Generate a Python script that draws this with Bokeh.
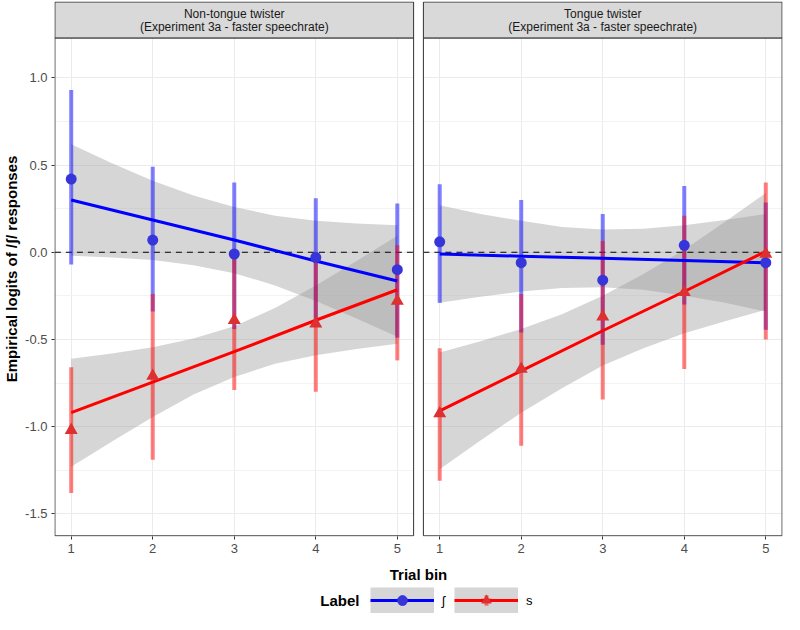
from bokeh.plotting import figure
from bokeh.models import (Range1d, FixedTicker, NumeralTickFormatter, CustomJSTickFormatter,
                          Legend, LegendItem, Label)
from bokeh.layouts import column
from bokeh.embed import file_html
from bokeh.resources import INLINE
from bokeh.core.properties import value

# ---------------- data ----------------
trial_bins = [1, 2, 3, 4, 5]
ribbon_x = [1, 1.5, 2, 2.5, 3, 3.5, 4, 4.5, 5]
panel_titles = ["Non-tongue twister", "Tongue twister"]
panel_subtitles = ["(Experiment 3a - faster speechrate)", "(Experiment 3a - faster speechrate)"]
series_labels = ["ʃ", "s"]
legend_title = "Label"
y_ticks = [-1.5, -1.0, -0.5, 0.0, 0.5, 1.0]
y_minor = [-1.25, -0.75, -0.25, 0.25, 0.75]

# Non-tongue twister panel
nt_esh_mean = [0.42, 0.07, -0.01, -0.03, -0.10]
nt_esh_lo = [-0.07, -0.34, -0.44, -0.38, -0.49]
nt_esh_hi = [0.93, 0.49, 0.40, 0.31, 0.28]
nt_s_mean = [-1.02, -0.71, -0.39, -0.41, -0.28]
nt_s_lo = [-1.38, -1.19, -0.79, -0.80, -0.62]
nt_s_hi = [-0.66, -0.24, -0.02, 0.00, 0.04]
nt_esh_fit = [0.30, 0.185, 0.07, -0.05, -0.165]
nt_s_fit = [-0.92, -0.745, -0.57, -0.39, -0.215]
nt_esh_band_lo = [-0.02, -0.03, -0.045, -0.075, -0.12, -0.19, -0.28, -0.38, -0.485]
nt_esh_band_hi = [0.62, 0.51, 0.41, 0.325, 0.26, 0.21, 0.18, 0.165, 0.155]
nt_s_band_lo = [-1.23, -1.085, -0.945, -0.815, -0.715, -0.64, -0.59, -0.555, -0.525]
nt_s_band_hi = [-0.61, -0.58, -0.545, -0.495, -0.425, -0.32, -0.19, -0.05, 0.095]

# Tongue twister panel
tt_esh_mean = [0.06, -0.06, -0.16, 0.04, -0.06]
tt_esh_lo = [-0.29, -0.46, -0.53, -0.30, -0.445]
tt_esh_hi = [0.39, 0.30, 0.22, 0.38, 0.285]
tt_s_mean = [-0.925, -0.67, -0.37, -0.23, -0.01]
tt_s_lo = [-1.31, -1.11, -0.845, -0.67, -0.50]
tt_s_hi = [-0.55, -0.24, 0.065, 0.21, 0.40]
tt_esh_fit = [-0.01, -0.0225, -0.035, -0.0475, -0.06]
tt_s_fit = [-0.91, -0.68, -0.45, -0.225, 0.005]
tt_esh_band_lo = [-0.29, -0.255, -0.225, -0.205, -0.20, -0.215, -0.25, -0.29, -0.34]
tt_esh_band_hi = [0.27, 0.22, 0.18, 0.145, 0.13, 0.135, 0.155, 0.185, 0.22]
tt_s_band_lo = [-1.245, -1.08, -0.92, -0.78, -0.65, -0.55, -0.465, -0.395, -0.33]
tt_s_band_hi = [-0.575, -0.51, -0.44, -0.355, -0.25, -0.125, 0.015, 0.175, 0.34]

# ---------------- layout constants ----------------
FONT = "Liberation Sans"
BLUE = "#0000ff"
RED = "#ff0000"
PT_BLUE = "#3535d9"
PT_RED = "#dd3030"
X_LO, X_HI = 0.8, 5.2          # one panel's x extent
GAP = 0.12                     # gap between panels (x units)
OFF = X_HI + GAP - X_LO        # shift of the second panel
Y_LO, Y_TOP = -1.626, 1.229    # panel y extent
STRIP_TOP = 1.435

W = 784
MAIN_H = 586
LEG_H = 614 - MAIN_H
LEFT_B = 44
RIGHT_B = 2

p = figure(width=W, height=MAIN_H, output_backend="svg", toolbar_location=None,
           x_range=Range1d(X_LO - 0.005, X_HI + OFF + 0.005),
           y_range=Range1d(Y_LO - 0.004, STRIP_TOP + 0.003),
           min_border_left=LEFT_B, min_border_right=RIGHT_B,
           min_border_top=1, min_border_bottom=50)
p.outline_line_color = None
p.background_fill_color = "white"
p.border_fill_color = "white"

# axes
xt = FixedTicker(ticks=trial_bins + [b + OFF for b in trial_bins], minor_ticks=[])
p.xaxis.ticker = xt
p.xaxis.formatter = CustomJSTickFormatter(
    code="const v = tick > %f ? tick - %f : tick; return v.toFixed(0);" % (X_HI + GAP / 2, OFF))
yt = FixedTicker(ticks=y_ticks, minor_ticks=y_minor)
p.yaxis.ticker = yt
p.yaxis.formatter = NumeralTickFormatter(format="0.0")
for ax in (p.xaxis[0], p.yaxis[0]):
    ax.axis_line_color = None
    ax.major_tick_line_color = "#333333"
    ax.major_tick_out = 3
    ax.major_tick_in = 0
    ax.minor_tick_line_color = None
    ax.major_label_text_font = FONT
    ax.major_label_text_font_size = "13px"
    ax.major_label_text_color = "#4d4d4d"
    ax.axis_label_text_font = FONT
    ax.axis_label_text_font_size = "15px"
    ax.axis_label_text_font_style = "bold"
    ax.axis_label_text_color = "black"
p.xaxis.axis_label = "Trial bin"
p.yaxis.axis_label = "Empirical logits of /ʃ/ responses"
p.xaxis.major_label_standoff = 4
p.xaxis.axis_label_standoff = 10
p.yaxis.major_label_standoff = 3
p.yaxis.axis_label_standoff = 2

p.xgrid.ticker = xt
p.ygrid.ticker = yt
p.xgrid.grid_line_color = "#ebebeb"
p.ygrid.grid_line_color = "#ebebeb"
p.ygrid.minor_grid_line_color = "#f3f3f3"
p.xgrid.grid_line_width = 1
p.ygrid.grid_line_width = 1

# white gap between the panels
p.quad(left=[X_HI], right=[X_HI + GAP], bottom=[Y_LO - 0.01], top=[STRIP_TOP + 0.01],
       fill_color="white", line_color=None)

panels = [
    (0.0, nt_esh_mean, nt_esh_lo, nt_esh_hi, nt_s_mean, nt_s_lo, nt_s_hi,
     nt_esh_fit, nt_s_fit, nt_esh_band_lo, nt_esh_band_hi, nt_s_band_lo, nt_s_band_hi),
    (OFF, tt_esh_mean, tt_esh_lo, tt_esh_hi, tt_s_mean, tt_s_lo, tt_s_hi,
     tt_esh_fit, tt_s_fit, tt_esh_band_lo, tt_esh_band_hi, tt_s_band_lo, tt_s_band_hi),
]

for (dx, em, elo, ehi, sm, slo, shi, efit, sfit, eblo, ebhi, sblo, sbhi) in panels:
    xb = [b + dx for b in trial_bins]
    xr = [b + dx for b in ribbon_x]
    # confidence ribbons
    p.varea(x=xr, y1=eblo, y2=ebhi, fill_color="#999999", fill_alpha=0.4)
    p.varea(x=xr, y1=sblo, y2=sbhi, fill_color="#999999", fill_alpha=0.4)
    # reference line at 0
    p.segment(x0=[X_LO + dx], y0=[0.0], x1=[X_HI + dx], y1=[0.0],
              line_color="black", line_width=1, line_dash="6 5")
    # error bars
    p.segment(x0=xb, y0=elo, x1=xb, y1=ehi, line_color=BLUE, line_alpha=0.5, line_width=4)
    p.segment(x0=xb, y0=slo, x1=xb, y1=shi, line_color=RED, line_alpha=0.5, line_width=4)
    # fitted lines
    p.line(xb, efit, line_color=BLUE, line_width=3)
    p.line(xb, sfit, line_color=RED, line_width=3)
    # points
    p.scatter(xb, em, marker="circle", size=11, fill_color=PT_BLUE, line_color=None)
    p.scatter(xb, sm, marker="triangle", size=13, fill_color=PT_RED, line_color=None)
    # panel border
    p.quad(left=[X_LO + dx], right=[X_HI + dx], bottom=[Y_LO], top=[Y_TOP],
           fill_color=None, line_color="#333333", line_width=1)
    # strip
    p.quad(left=[X_LO + dx], right=[X_HI + dx], bottom=[Y_TOP], top=[STRIP_TOP],
           fill_color="#d9d9d9", line_color="#333333", line_width=1)

strip_h = STRIP_TOP - Y_TOP
centers = [(X_LO + X_HI) / 2, (X_LO + X_HI) / 2 + OFF]
p.text(x=centers, y=[STRIP_TOP - strip_h * 0.34] * 2, text=panel_titles,
       text_font=value(FONT), text_font_size="12px", text_color="#1a1a1a",
       text_align="center", text_baseline="middle")
p.text(x=centers, y=[STRIP_TOP - strip_h * 0.69] * 2, text=panel_subtitles,
       text_font=value(FONT), text_font_size="12px", text_color="#1a1a1a",
       text_align="center", text_baseline="middle")

# ---------------- legend (separate strip below) ----------------
# proxy renderers: their data lie outside this strip's ranges, so only the legend shows them
p2 = figure(width=W, height=LEG_H, output_backend="svg", toolbar_location=None,
            x_range=Range1d(100, 101), y_range=Range1d(100, 101),
            x_axis_location=None, y_axis_location=None,
            min_border_left=LEFT_B, min_border_right=RIGHT_B,
            min_border_top=0, min_border_bottom=0)
p2.outline_line_color = None
p2.grid.visible = False

items = []
for lab, col, mk, pcol, ys, yf in [(series_labels[0], BLUE, "circle", PT_BLUE, nt_esh_mean, nt_esh_fit),
                                   (series_labels[1], RED, "triangle", PT_RED, nt_s_mean, nt_s_fit)]:
    bg = p2.line(trial_bins, yf, line_color="#d6d6d6", line_width=26)
    ln = p2.line(trial_bins, yf, line_color=col, line_width=3)
    br = p2.scatter(trial_bins, ys, marker="cross", line_color=col, line_alpha=0.5, line_width=4)
    pt = p2.scatter(trial_bins, ys, marker=mk, fill_color=pcol, line_color=None)
    items.append(LegendItem(label=lab, renderers=[bg, ln, br, pt]))

legend = Legend(items=items, orientation="horizontal", location=(316, 1),
                label_text_font=FONT, label_text_font_size="13px", label_text_color="black",
                glyph_width=64, glyph_height=26, label_standoff=8, label_width=4, spacing=8,
                padding=0, margin=0, border_line_color=None, background_fill_alpha=0)
p2.add_layout(legend, "center")
p2.add_layout(Label(x=305, y=14, x_units="screen", y_units="screen", text=legend_title,
                    text_align="right", text_baseline="middle", text_font=FONT,
                    text_font_size="15px", text_font_style="bold", text_color="black"))

layout = column(p, p2)
open("out.html", "w").write(file_html(layout, INLINE))
